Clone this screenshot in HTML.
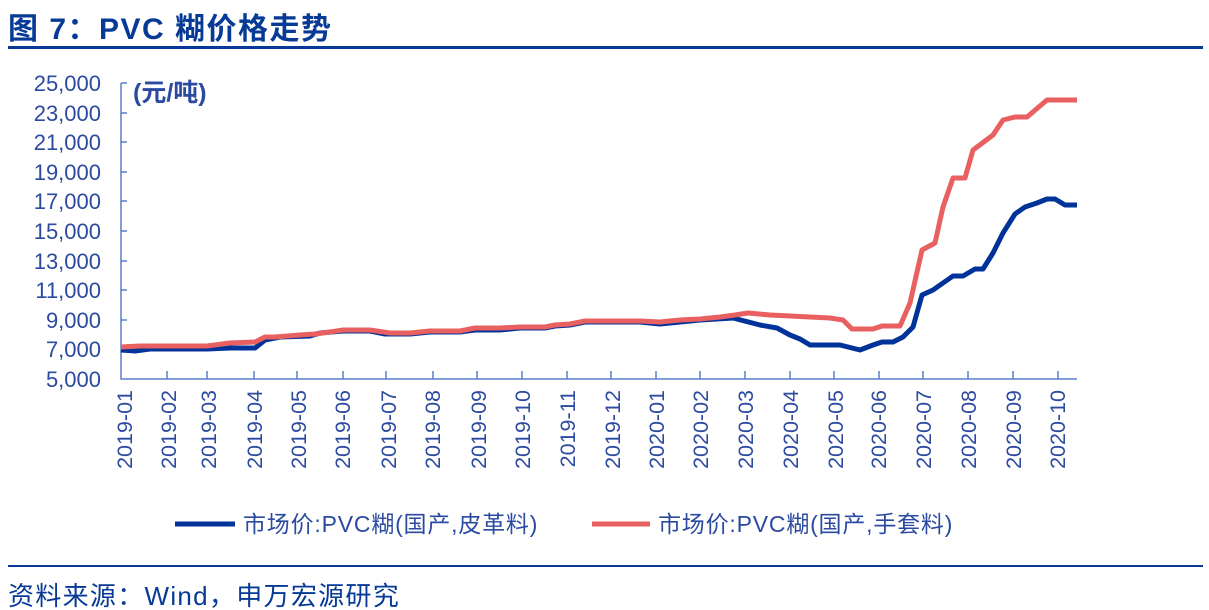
<!DOCTYPE html>
<html><head><meta charset="utf-8"><style>
body{margin:0;width:1209px;height:610px;background:#fff;overflow:hidden;font-family:"Liberation Sans","Noto Sans CJK SC",sans-serif;}
</style></head><body>
<svg width="1209" height="610" xmlns="http://www.w3.org/2000/svg" style="position:absolute;left:0;top:0">
<text x="8" y="39" font-size="30" font-weight="bold" fill="#063a96" letter-spacing="1.5" font-family="Liberation Sans,Noto Sans CJK SC,sans-serif">图 7：PVC 糊价格走势</text>
<rect x="8" y="46" width="1195" height="3" fill="#063a96"/>
<g font-size="22" fill="#2b4aa0" text-anchor="end" font-family="Liberation Sans,sans-serif">
<text x="101" y="91">25,000</text><text x="101" y="121">23,000</text><text x="101" y="150">21,000</text>
<text x="101" y="180">19,000</text><text x="101" y="209">17,000</text><text x="101" y="239">15,000</text>
<text x="101" y="269">13,000</text><text x="101" y="298">11,000</text><text x="101" y="328">9,000</text>
<text x="101" y="357">7,000</text><text x="101" y="387">5,000</text>
</g>
<text x="133" y="101" font-size="25" font-weight="bold" fill="#2b4aa0" font-family="Liberation Sans,Noto Sans CJK SC,sans-serif">(元/吨)</text>
<g stroke="#5b7fc8" stroke-width="1.5" fill="none">
<path d="M121 83V379H1077"/>
<path d="M121 83h6M121 113h6M121 142h6M121 172h6M121 201h6M121 231h6M121 261h6M121 290h6M121 320h6M121 349h6"/>
<path d="M167 379v-8M207 379v-8M254 379v-8M297 379v-8M343 379v-8M386 379v-8M433 379v-8M477 379v-8M522 379v-8M567 379v-8M611 379v-8M656 379v-8M700 379v-8M745 379v-8M790 379v-8M834 379v-8M879 379v-8M923 379v-8M968 379v-8M1013 379v-8M1058 379v-8"/>
</g>
<g font-size="21.5" fill="#2b4aa0" font-family="Liberation Sans,sans-serif" text-anchor="end">
<text transform="translate(132,390) rotate(-90)">2019-01</text>
<text transform="translate(176,390) rotate(-90)">2019-02</text>
<text transform="translate(216,390) rotate(-90)">2019-03</text>
<text transform="translate(262,390) rotate(-90)">2019-04</text>
<text transform="translate(306,390) rotate(-90)">2019-05</text>
<text transform="translate(350,390) rotate(-90)">2019-06</text>
<text transform="translate(396,390) rotate(-90)">2019-07</text>
<text transform="translate(440,390) rotate(-90)">2019-08</text>
<text transform="translate(486,390) rotate(-90)">2019-09</text>
<text transform="translate(530,390) rotate(-90)">2019-10</text>
<text transform="translate(575,390) rotate(-90)">2019-11</text>
<text transform="translate(620,390) rotate(-90)">2019-12</text>
<text transform="translate(664,390) rotate(-90)">2020-01</text>
<text transform="translate(708,390) rotate(-90)">2020-02</text>
<text transform="translate(753,390) rotate(-90)">2020-03</text>
<text transform="translate(798,390) rotate(-90)">2020-04</text>
<text transform="translate(843,390) rotate(-90)">2020-05</text>
<text transform="translate(886,390) rotate(-90)">2020-06</text>
<text transform="translate(931,390) rotate(-90)">2020-07</text>
<text transform="translate(976,390) rotate(-90)">2020-08</text>
<text transform="translate(1021,390) rotate(-90)">2020-09</text>
<text transform="translate(1065,390) rotate(-90)">2020-10</text>
</g>
<polyline fill="none" stroke="#003399" stroke-width="5" stroke-linejoin="round" points="121,350 135,351 150,349 207,349 230,348 255,348 265,340 280,337 310,336 320,333 343,331 370,331 385,334 410,334 430,332 460,332 475,330 500,330 520,328 545,328 555,326 570,325 585,322 640,322 660,324 700,320 733,318 760,325 777,328 790,335 800,339 810,345 840,345 860,350 873,345 882,342 893,342 903,337 913,327 922,295 933,290 953,276 963,276 975,269 983,269 993,253 1003,233 1015,214 1025,207 1037,203 1047,199 1055,199 1065,205 1077,205"/>
<polyline fill="none" stroke="#e8605f" stroke-width="5" stroke-linejoin="round" points="121,347 140,346 207,346 230,343 255,342 265,337 275,337 300,335 315,334 330,332 343,330 370,330 390,333 410,333 430,331 460,331 475,328 500,328 520,327 545,327 555,325 570,324 585,321 640,321 660,322 680,320 700,319 720,317 735,315 748,313 770,315 790,316 810,317 830,318 843,320 852,329 873,329 882,326 900,326 910,303 922,250 935,243 943,207 953,178 965,178 973,150 993,135 1003,120 1015,117 1027,117 1047,100 1077,100"/>
<line x1="175" y1="524" x2="235" y2="524" stroke="#003399" stroke-width="5"/>
<text x="243" y="532" font-size="23" fill="#2b4aa0" letter-spacing="0.8" font-family="Liberation Sans,Noto Sans CJK SC,sans-serif">市场价:PVC糊(国产,皮革料)</text>
<line x1="592" y1="524" x2="650" y2="524" stroke="#e8605f" stroke-width="5"/>
<text x="658" y="532" font-size="23" fill="#2b4aa0" letter-spacing="0.8" font-family="Liberation Sans,Noto Sans CJK SC,sans-serif">市场价:PVC糊(国产,手套料)</text>
<rect x="8" y="565" width="1195" height="2" fill="#063a96"/>
<text x="8" y="605" font-size="26" fill="#063a96" letter-spacing="1.3" font-family="Liberation Sans,Noto Sans CJK SC,sans-serif">资料来源：Wind，申万宏源研究</text>
</svg>
</body></html>
